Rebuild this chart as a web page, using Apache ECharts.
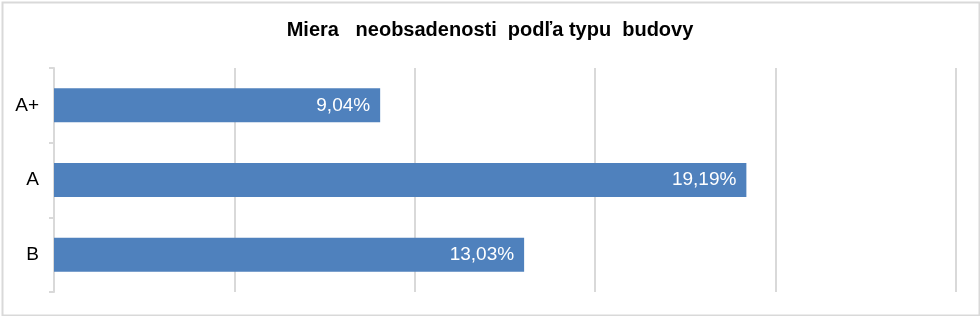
<!DOCTYPE html>
<html><head><meta charset="utf-8">
<script src="https://cdn.jsdelivr.net/npm/echarts@6/dist/echarts.min.js"></script>
<style>html,body{margin:0;padding:0;background:#fff}#c{width:980px;height:316px}</style>
</head><body><div id="c"></div>
<script>
const categories = ['A+', 'A', 'B'];
const values = [9.04, 19.19, 13.03];
const title = 'Miera   neobsadenosti  podľa typu  budovy';

const chart = echarts.init(document.getElementById('c'), null, {renderer: 'canvas'});
chart.setOption({
  animation: false,
  backgroundColor: '#fff',
  title: {
    text: title, left: 'center', top: 15,
    textStyle: {fontFamily: 'Liberation Sans, Arial', fontSize: 20, fontWeight: 'bold', color: '#000'}
  },
  graphic: [{
    type: 'rect', left: 0, top: 0, silent: true,
    shape: {x: 1, y: 1, width: 977, height: 313},
    style: {fill: 'none', stroke: '#d9d9d9', lineWidth: 2}
  }],
  grid: {left: 54, right: 24, top: 68, bottom: 24, containLabel: false},
  xAxis: {
    type: 'value', min: 0, max: 25, interval: 5,
    axisLabel: {show: false}, axisLine: {show: false}, axisTick: {show: false},
    splitLine: {show: true, lineStyle: {color: '#d9d9d9', width: 2}}
  },
  yAxis: {
    type: 'category', data: categories, inverse: true,
    axisLine: {show: true, lineStyle: {color: '#d9d9d9', width: 2}},
    axisTick: {show: true, length: 5, lineStyle: {color: '#d9d9d9', width: 2}},
    axisLabel: {margin: 15, fontFamily: 'Liberation Sans, Arial', fontSize: 19, color: '#000'}
  },
  series: [{
    type: 'bar', data: values, barWidth: 34,
    itemStyle: {color: '#4f81bd'},
    label: {
      show: true, position: 'insideRight', distance: 10,
      fontFamily: 'Liberation Sans, Arial', fontSize: 19, color: '#fff',
      formatter: p => p.value.toFixed(2).replace('.', ',') + '%'
    }
  }]
});
</script></body></html>
